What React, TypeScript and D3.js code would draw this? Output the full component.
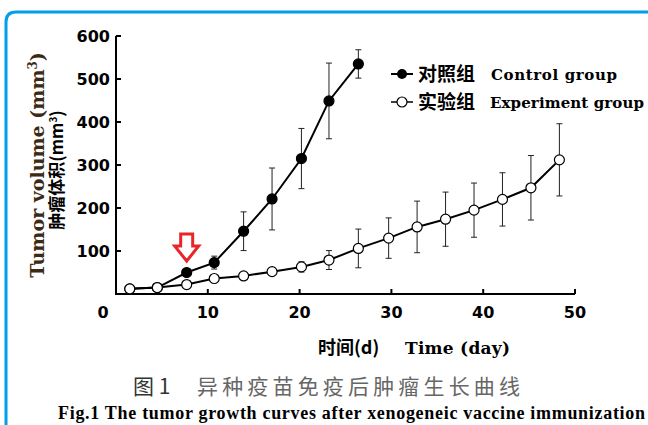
import React from 'react';
import * as d3 from 'd3';

// 对照组 (control) – days, volume, error
const controlDays = [1.5, 4.5, 7.7, 10.7, 13.9, 17, 20.2, 23.2, 26.4];
const controlValues = [12, 15, 50, 73, 146, 221, 315, 449, 535];
const controlErrors = [0, 0, 6, 15, 45, 72, 70, 88, 33];

// 实验组 (experiment)
const experimentDays = [1.5, 4.5, 7.7, 10.7, 13.9, 17, 20.2, 23.2, 26.4, 29.7, 32.8, 35.9, 39, 42.1, 45.2, 48.3];
const experimentValues = [12, 15, 22, 36, 42, 52, 63, 79, 106, 130, 156, 174, 195, 220, 247, 312];
const experimentErrors = [0, 0, 4, 5, 5, 8, 12, 22, 45, 47, 60, 63, 63, 62, 75, 84];

const xTicks = [0, 10, 20, 30, 40, 50];
const yTicks = [100, 200, 300, 400, 500, 600];
const arrowDay = 7.7;

const W = 648;
const H = 425;

const SERIF = '"DejaVu Serif", serif';
const SANS = '"DejaVu Sans", sans-serif';
const CJK = '"Noto Sans CJK SC", sans-serif';

type Pt = { x: number; y: number; e: number };

export default function App() {
  const x = d3.scaleLinear().domain([0, 50]).range([116, 575]);
  const y = d3.scaleLinear().domain([0, 600]).range([294, 36]);

  const control: Pt[] = controlDays.map((d, i) => ({ x: d, y: controlValues[i], e: controlErrors[i] }));
  const experiment: Pt[] = experimentDays.map((d, i) => ({ x: d, y: experimentValues[i], e: experimentErrors[i] }));

  const line = d3
    .line<Pt>()
    .x((d) => x(d.x))
    .y((d) => y(d.y));

  const errBars = (data: Pt[], key: string) =>
    data
      .filter((d) => d.e > 0)
      .map((d, i) => {
        const cx = x(d.x);
        const t = y(d.y + d.e);
        const b = y(d.y - d.e);
        return (
          <g key={`${key}-${i}`} stroke="#222" strokeWidth={1}>
            <line x1={cx} x2={cx} y1={t} y2={b} />
            <line x1={cx - 3} x2={cx + 3} y1={t} y2={t} />
            <line x1={cx - 3} x2={cx + 3} y1={b} y2={b} />
          </g>
        );
      });

  // 红色空心箭头
  const ax = x(arrowDay);
  const arrowTop = 234;
  const arrowPath = `M${ax - 6},${arrowTop} L${ax + 6},${arrowTop} L${ax + 6},${arrowTop + 12} L${ax + 12},${arrowTop + 12} L${ax},${arrowTop + 27} L${ax - 12},${arrowTop + 12} L${ax - 6},${arrowTop + 12} Z`;

  return (
    <svg
      width={W}
      height={H}
      style={{ position: 'absolute', left: 0, top: 0, background: '#fff' }}
    >
      {/* blue frame */}
      <path d="M6,425 L6,22 Q6,12 16,12 L648,12" fill="none" stroke="#00A0E9" strokeWidth={3} />

      {/* axes */}
      <g stroke="#000" strokeWidth={2} fill="none">
        <line x1={x(0)} x2={x(0)} y1={y(600)} y2={y(0) + 1} />
        <line x1={x(0) - 1} x2={x(50)} y1={y(0)} y2={y(0)} />
        {yTicks.map((t) => (
          <line key={`yt${t}`} x1={x(0)} x2={x(0) + 5} y1={y(t)} y2={y(t)} />
        ))}
        {xTicks.slice(1).map((t) => (
          <line key={`xt${t}`} x1={x(t)} x2={x(t)} y1={y(0)} y2={y(0) - 5} />
        ))}
      </g>

      {/* tick labels */}
      <g fontFamily={SANS} fontWeight="bold" fontSize={16} fill="#000">
        {yTicks.map((t) => (
          <text key={`yl${t}`} x={110} y={y(t)} dy="0.36em" textAnchor="end">
            {t}
          </text>
        ))}
        {xTicks.map((t) => (
          <text key={`xl${t}`} x={t === 0 ? x(t) - 13 : x(t)} y={318} textAnchor="middle">
            {t}
          </text>
        ))}
      </g>

      {/* error bars */}
      {errBars(control, 'c')}
      {errBars(experiment, 'e')}

      {/* lines */}
      <path d={line(control) || ''} fill="none" stroke="#000" strokeWidth={2} />
      <path d={line(experiment) || ''} fill="none" stroke="#000" strokeWidth={2} />

      {/* markers */}
      {control.map((d, i) => (
        <circle key={`cm${i}`} cx={x(d.x)} cy={y(d.y)} r={5} fill="#000" stroke="#000" strokeWidth={1.2} />
      ))}
      {experiment.map((d, i) => (
        <circle key={`em${i}`} cx={x(d.x)} cy={y(d.y)} r={5} fill="#fff" stroke="#000" strokeWidth={1.2} />
      ))}

      {/* arrow */}
      <path d={arrowPath} fill="#fff" stroke="#E8262A" strokeWidth={3} strokeLinejoin="miter" />

      {/* legend */}
      <g>
        <line x1={391} x2={413} y1={74} y2={74} stroke="#000" strokeWidth={2} />
        <circle cx={402} cy={74} r={5} fill="#000" />
        <text x={418} y={81} fontFamily={CJK} fontWeight="bold" fontSize={19}>对照组</text>
        <text x={491} y={80} fontFamily={SERIF} fontWeight="bold" fontSize={15} textLength={126}>Control group</text>

        <line x1={391} x2={413} y1={102} y2={102} stroke="#000" strokeWidth={1.5} />
        <circle cx={402} cy={102} r={5} fill="#fff" stroke="#000" strokeWidth={1.2} />
        <text x={418} y={109} fontFamily={CJK} fontWeight="bold" fontSize={19}>实验组</text>
        <text x={490} y={108} fontFamily={SERIF} fontWeight="bold" fontSize={15} textLength={154}>Experiment group</text>
      </g>

      {/* y axis titles */}
      <text
        transform="translate(44,165) rotate(-90)"
        textAnchor="middle"
        fontFamily={SERIF}
        fontWeight="bold"
        fontSize={19}
        fill="#3b2a14"
      >
        Tumor volume (mm<tspan dy="-7" fontSize={12}>3</tspan><tspan dy="7">)</tspan>
      </text>
      <text
        transform="translate(63,170) rotate(-90)"
        textAnchor="middle"
        fontFamily={CJK}
        fontWeight="bold"
        fontSize={17}
        fill="#000"
      >
        肿瘤体积(mm<tspan dy="-6" fontSize={10}>3</tspan><tspan dy="6">)</tspan>
      </text>

      {/* x axis title */}
      <text x={318} y={354} fontFamily={CJK} fontWeight="bold" fontSize={18}>时间(d)</text>
      <text x={405} y={354} fontFamily={SERIF} fontWeight="bold" fontSize={17} textLength={105}>Time (day)</text>

      {/* caption */}
      <text x={133} y={394} fontFamily={CJK} fontSize={21} fill="#333">图 1</text>
      <text x={197} y={394} fontFamily={CJK} fontSize={21} fill="#666" textLength={323}>
        异种疫苗免疫后肿瘤生长曲线
      </text>
      <text
        x={58}
        y={419}
        fontFamily='"Liberation Serif", serif'
        fontWeight="bold"
        fontSize={18}
        textLength={587}
      >
        Fig.1  The tumor growth curves after xenogeneic vaccine immunization
      </text>
    </svg>
  );
}
